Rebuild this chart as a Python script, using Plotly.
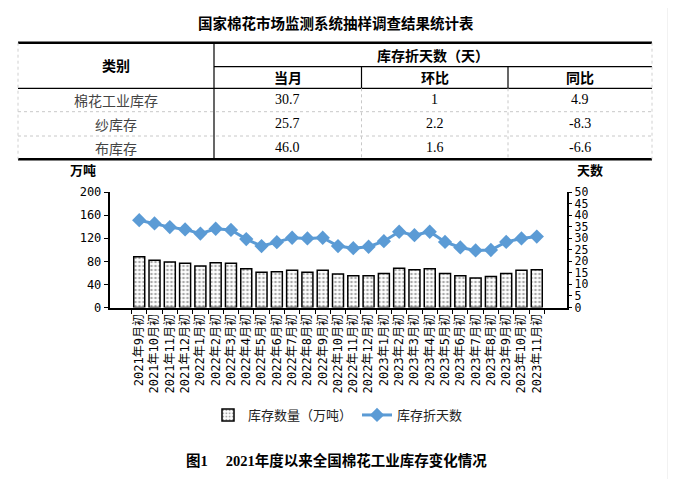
import plotly.graph_objects as go

# ---- data ----
table_title = "国家棉花市场监测系统抽样调查结果统计表"
table_group = "库存折天数（天）"
table_head = "类别"
col_labels = ["当月", "环比", "同比"]
row_labels = ["棉花工业库存", "纱库存", "布库存"]
cur_month = ["30.7", "25.7", "46.0"]
mom = ["1", "2.2", "1.6"]
yoy = ["4.9", "-8.3", "-6.6"]

months = [
    "2021年9月初", "2021年10月初", "2021年11月初", "2021年12月初",
    "2022年1月初", "2022年2月初", "2022年3月初", "2022年4月初",
    "2022年5月初", "2022年6月初", "2022年7月初", "2022年8月初",
    "2022年9月初", "2022年10月初", "2022年11月初", "2022年12月初",
    "2023年1月初", "2023年2月初", "2023年3月初", "2023年4月初",
    "2023年5月初", "2023年6月初", "2023年7月初", "2023年8月初",
    "2023年9月初", "2023年10月初", "2023年11月初",
]
stock = [88, 82, 79, 76.5, 72, 77.5, 76.5, 67, 61, 62, 64.5, 61, 64.5, 58,
         55, 55, 59, 68, 65.5, 67, 59, 55, 51, 53.5, 59, 64.5, 65.5]
days = [37.8, 36.4, 34.8, 33.8, 32.0, 34.1, 33.6, 29.6, 26.6, 28.3, 30.2, 29.9,
        30.2, 26.6, 25.7, 26.3, 28.7, 32.8, 31.3, 32.8, 28.4, 26.0, 24.7, 24.9,
        28.4, 29.9, 30.7]

caption = "图1　 2021年度以来全国棉花工业库存变化情况"

# the page body has an 8px margin, so the figure is a bit smaller and
# positions below are given in window pixels
OFF = 8
W, H = 676 - OFF, 487 - 2 * OFF
CJK = "Noto Sans CJK SC"
MONO = "DejaVu Sans Mono, Noto Sans CJK SC"
SERIF = "Liberation Serif, Noto Sans CJK SC"


def px(x):
    return (x - OFF) / W


def py(y):
    return 1 - (y - OFF) / H


fig = go.Figure()

fig.add_trace(go.Bar(
    x=months, y=stock, name="库存数量（万吨）",
    marker=dict(color="white", line=dict(color="black", width=1.5),
                pattern=dict(shape=".", fgcolor="#555555", bgcolor="white",
                             size=4, solidity=0.35)),
))
fig.add_trace(go.Scatter(
    x=months, y=days, name="库存折天数", yaxis="y2", mode="lines+markers",
    line=dict(color="#5B9BD5", width=3),
    marker=dict(symbol="diamond", size=11, color="#5B9BD5"),
))

# table geometry
col_x = [18, 214, 361.5, 508, 652]
row_y = [42.7, 66.7, 88.3, 111.7, 136, 159.3]

shapes = []


def hline(y, x0, x1, width=1.2, color="black", dash="solid"):
    shapes.append(dict(type="line", xref="paper", yref="paper", x0=px(x0), x1=px(x1),
                       y0=py(y), y1=py(y), line=dict(color=color, width=width, dash=dash)))


def vline(x, y0, y1, width=1.2, color="black", dash="solid"):
    shapes.append(dict(type="line", xref="paper", yref="paper", x0=px(x), x1=px(x),
                       y0=py(y0), y1=py(y1), line=dict(color=color, width=width, dash=dash)))


hline(row_y[0], col_x[0], col_x[-1], width=2.5)
hline(row_y[1], col_x[1], col_x[-1])
hline(row_y[2], col_x[0], col_x[-1])
hline(row_y[3], col_x[0], col_x[-1], width=1, color="#c8c8c8", dash="dot")
hline(row_y[4], col_x[0], col_x[-1], width=1, color="#c8c8c8", dash="dot")
hline(row_y[5], col_x[0], col_x[-1], width=2.5)
vline(col_x[0], row_y[0], row_y[5], width=1, color="#d0d0d0", dash="dot")
vline(col_x[-1], row_y[0], row_y[5], width=1, color="#d0d0d0", dash="dot")
vline(col_x[1], row_y[0], row_y[5])
for cx in col_x[2:4]:
    vline(cx, row_y[1], row_y[2])
    vline(cx, row_y[2], row_y[5], width=1, color="#c8c8c8", dash="dot")

# light strip at the right edge
shapes.append(dict(type="rect", xref="paper", yref="paper", x0=px(667), x1=1, y0=0, y1=1,
                   fillcolor="#f2f2f2", line=dict(width=0), layer="below"))

annotations = []


def ann(text, x, y, size=14, family=CJK, color="black", bold=False):
    annotations.append(dict(text=f"<b>{text}</b>" if bold else text, x=px(x), y=py(y),
                            xref="paper", yref="paper", showarrow=False,
                            xanchor="center", yanchor="middle",
                            font=dict(size=size, family=family, color=color)))


ann(table_title, 336, 23, size=14.5, bold=True)
ann(table_head, (col_x[0] + col_x[1]) / 2, (row_y[0] + row_y[2]) / 2, size=14, bold=True)
ann(table_group, (col_x[1] + col_x[-1]) / 2, (row_y[0] + row_y[1]) / 2, size=14, bold=True)
for i, lab in enumerate(col_labels):
    ann(lab, (col_x[i + 1] + col_x[i + 2]) / 2, (row_y[1] + row_y[2]) / 2, size=14, bold=True)
for r, lab in enumerate(row_labels):
    yc = (row_y[r + 2] + row_y[r + 3]) / 2
    ann(lab, (col_x[0] + col_x[1]) / 2, yc, size=14, color="#444444")
    for c, vals in enumerate([cur_month, mom, yoy]):
        ann(vals[r], (col_x[c + 1] + col_x[c + 2]) / 2, yc, size=14, family=SERIF)

ann("万吨", 83, 170, size=13, bold=True)
ann("天数", 590, 170, size=13, bold=True)
ann(caption, 336, 460, size=14.5, family=SERIF, bold=True)

fig.update_layout(
    width=W, height=H,
    margin=dict(l=0, r=0, t=0, b=0),
    paper_bgcolor="white", plot_bgcolor="white",
    bargap=0.28,
    shapes=shapes, annotations=annotations,
    showlegend=True,
    legend=dict(orientation="h", x=0.5 * (px(0) + px(676)), xanchor="center",
                y=py(415), yanchor="middle",
                font=dict(size=13, family=CJK, color="#222222"), itemwidth=30),
    xaxis=dict(domain=[px(109.5), px(566.5)], type="category", tickson="boundaries",
               ticks="outside", ticklen=5, tickcolor="black", tickangle=-90,
               showline=True, linecolor="black", linewidth=1.5, showgrid=False,
               automargin=False,
               tickfont=dict(size=12, family=MONO, color="black")),
    yaxis=dict(domain=[py(307.5), py(192)], range=[0, 200], dtick=40,
               ticks="outside", ticklen=4, tickcolor="black", automargin=False,
               showline=True, linecolor="black", linewidth=1.5, showgrid=False, zeroline=False,
               tickfont=dict(size=12, family=MONO, color="black")),
    yaxis2=dict(overlaying="y", side="right", range=[0, 50], dtick=5,
                ticks="outside", ticklen=4, tickcolor="black", automargin=False,
                showline=True, linecolor="black", linewidth=1.5, showgrid=False, zeroline=False,
                tickfont=dict(size=11.5, family=MONO, color="black")),
)

fig.write_html("out.html")
